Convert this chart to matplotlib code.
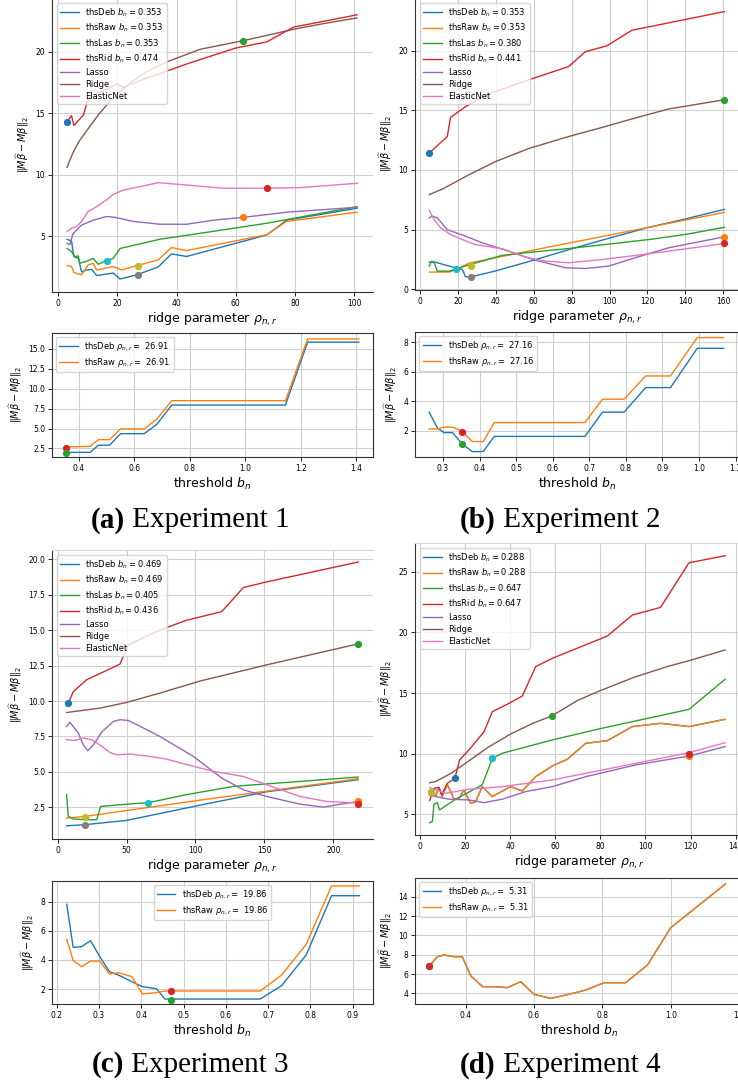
import numpy as np
import matplotlib.pyplot as plt

W, H = 738, 1086
plt.rcParams['font.family'] = 'DejaVu Sans'

labels_top = ["thsDeb", "thsRaw", "thsLas", "thsRid", "Lasso", "Ridge", "ElasticNet"]
dot_colors_a = ["C0", "C2", "C3", "C1", "C9", "C8", "C7"]

## Experiment 1 ##
e1_bn = [0.353, 0.353, 0.353, 0.474]
e1_deb_x = [3, 4.5, 5.3, 6.8, 7.9, 9.6, 11.3, 13, 18.6, 20.9, 26.5, 33.8, 38.3, 43.4, 70.5, 77.2, 101]
e1_deb_y = [4.74, 4.6, 3.34, 3.2, 2.1, 2.25, 2.3, 1.8, 2.0, 1.52, 1.85, 2.5, 3.56, 3.35, 5.1, 6.3, 7.27]
e1_raw_x = [3, 4.5, 5.3, 7.9, 10.1, 11.8, 13, 18.6, 21.4, 26.5, 33.8, 38.3, 43.4, 70.5, 77.2, 101]
e1_raw_y = [2.61, 2.53, 2.05, 1.85, 2.65, 2.8, 2.25, 2.53, 2.25, 2.6, 3.07, 4.07, 3.83, 5.12, 6.2, 6.95]
e1_las_x = [3, 4.5, 5.6, 6.8, 7.3, 10.1, 11.8, 13.5, 16.3, 18.6, 20.9, 34.4, 47.9, 70.5, 101]
e1_las_y = [4.0, 3.74, 3.33, 3.4, 2.8, 3.0, 3.2, 2.72, 3.0, 3.2, 4.0, 4.75, 5.23, 6.05, 7.4]
e1_rid_x = [3, 4.5, 5.3, 8.5, 10, 13, 17, 20, 22, 27, 34, 44, 60, 70.5, 79.5, 101]
e1_rid_y = [14.3, 14.8, 14.0, 14.85, 16.1, 16.6, 17.0, 17.4, 17.1, 17.6, 18.2, 19.05, 20.3, 20.8, 22.0, 23.0]
e1_lasso_x = [3, 3.9, 5, 7.9, 11.8, 16.3, 19.2, 25.4, 34.4, 43.4, 52.4, 62.6, 77.2, 101]
e1_lasso_y = [4.42, 4.3, 5.2, 5.9, 6.3, 6.6, 6.53, 6.2, 5.97, 5.97, 6.3, 6.53, 6.95, 7.35]
e1_ridge_x = [3, 5, 7, 10, 14, 18, 25, 30, 37, 48, 62.5, 70, 80, 90, 101]
e1_ridge_y = [10.6, 11.8, 12.7, 13.7, 15.0, 16.1, 17.6, 18.4, 19.2, 20.2, 20.9, 21.3, 21.85, 22.3, 22.75]
e1_enet_x = [3, 4.5, 6.2, 7.9, 10.1, 13, 16.3, 18.6, 22, 27.6, 33.8, 43.4, 55.8, 70.5, 81.7, 101]
e1_enet_y = [5.38, 5.65, 5.78, 6.2, 7.0, 7.4, 7.95, 8.4, 8.75, 9.03, 9.35, 9.16, 8.9, 8.9, 8.95, 9.3]
e1_dot_x = [3, 62.5, 70.5, 62.5, 16.5, 26.8, 26.8]
e1_dot_y = [14.3, 20.85, 8.9, 6.55, 3.0, 2.6, 1.88]

e1_rho = 26.91
e1_thr = [0.353, 0.44, 0.47, 0.51, 0.55, 0.635, 0.68, 0.735, 1.145, 1.225, 1.41]
e1_thr_deb = [2.0, 2.0, 2.9, 2.9, 4.35, 4.35, 5.5, 7.95, 7.95, 15.85, 15.85]
e1_thr_raw = [2.7, 2.75, 3.6, 3.6, 4.95, 4.95, 6.15, 8.5, 8.5, 16.25, 16.25]

## Experiment 2 ##
e2_bn = [0.353, 0.353, 0.380, 0.441]
e2_deb_x = [4.9, 8, 18.8, 22.3, 24, 26.8, 40, 60, 80, 100, 120, 140, 160.5]
e2_deb_y = [2.28, 2.28, 1.8, 1.67, 1.06, 1.05, 1.55, 2.45, 3.4, 4.3, 5.17, 5.9, 6.7]
e2_raw_x = [4.9, 15.3, 21, 25.8, 60, 100, 160.5]
e2_raw_y = [1.45, 1.45, 1.8, 2.2, 3.3, 4.55, 6.45]
e2_las_x = [4.9, 6, 7.4, 9.1, 15.3, 25.8, 43.3, 61, 80, 100, 122, 140, 160.5]
e2_las_y = [1.95, 2.35, 2.3, 1.53, 1.53, 2.05, 2.85, 3.15, 3.45, 3.8, 4.2, 4.6, 5.2]
e2_rid_x = [4.9, 14.4, 16.1, 24, 35, 57.4, 78.4, 87.2, 98.6, 111.8, 160.5]
e2_rid_y = [11.42, 12.8, 14.4, 15.3, 16.3, 17.55, 18.66, 19.9, 20.4, 21.7, 23.26]
e2_lasso_x = [4.9, 6.5, 9.1, 14.4, 24, 32.8, 46.8, 60.9, 76.8, 87.2, 99.5, 113.5, 131, 160.5]
e2_lasso_y = [5.99, 6.13, 6.0, 5.0, 4.46, 3.9, 3.2, 2.45, 1.81, 1.75, 1.95, 2.65, 3.48, 4.4]
e2_ridge_x = [4.9, 11.8, 25.8, 39.8, 57.4, 78.4, 96, 113.5, 131, 160.5]
e2_ridge_y = [7.94, 8.4, 9.6, 10.7, 11.8, 12.8, 13.56, 14.35, 15.1, 15.88]
e2_enet_x = [4.9, 7.4, 10.9, 16.1, 22.3, 29.3, 43.3, 55.6, 66.1, 78.4, 96, 113.5, 131, 160.5]
e2_enet_y = [6.6, 5.85, 5.15, 4.6, 4.18, 3.75, 3.4, 2.7, 2.37, 2.23, 2.5, 2.84, 3.2, 3.84]
e2_dot_x = [4.9, 160.5, 160.5, 160.5, 19, 26.8, 26.8]
e2_dot_y = [11.42, 15.88, 4.35, 3.85, 1.72, 1.93, 1.05]
dot_colors_b = ["C0", "C2", "C1", "C3", "C9", "C8", "C7"]

e2_rho = 27.16
e2_thr = [0.262, 0.285, 0.303, 0.326, 0.353, 0.38, 0.41, 0.44, 0.688, 0.736, 0.795, 0.854, 0.922, 0.995, 1.067]
e2_thr_deb = [3.25, 2.16, 1.86, 1.86, 1.07, 0.57, 0.57, 1.6, 1.6, 3.25, 3.25, 4.92, 4.92, 7.59, 7.59]
e2_thr_raw = [2.11, 2.11, 2.23, 2.23, 1.93, 1.25, 1.25, 2.54, 2.54, 4.13, 4.13, 5.71, 5.71, 8.32, 8.32]

## Experiment 3 ##
e3_bn = [0.469, 0.469, 0.405, 0.436]
e3_deb_x = [6.5, 19.8, 50, 103, 151.6, 218]
e3_deb_y = [1.2, 1.28, 1.58, 2.65, 3.6, 4.45]
e3_raw_x = [6.5, 19.8, 110, 218]
e3_raw_y = [1.75, 1.86, 3.1, 4.52]
e3_las_x = [6.5, 7.7, 11.4, 21, 28.3, 31.2, 54.9, 65.8, 93.6, 127.4, 175.8, 218]
e3_las_y = [3.4, 1.87, 1.68, 1.63, 1.63, 2.57, 2.76, 2.83, 3.4, 3.98, 4.33, 4.64]
e3_rid_x = [7.7, 11.4, 21, 45.2, 51.3, 74.2, 93.6, 119, 134.7, 151.6, 218]
e3_rid_y = [9.85, 10.67, 11.5, 12.6, 13.96, 15.0, 15.7, 16.3, 18.0, 18.4, 19.8]
e3_lasso_x = [6.5, 8.9, 15, 18.6, 21.8, 25.9, 31.9, 40.4, 45.2, 51.3, 62.2, 74.2, 98.4, 119,
              134.7, 151.6, 175.8, 192.7, 200, 218]
e3_lasso_y = [8.2, 8.5, 7.74, 6.9, 6.5, 6.9, 7.8, 8.56, 8.68, 8.63, 8.1, 7.5, 6.1, 4.57,
              3.74, 3.27, 2.73, 2.52, 2.64, 2.92]
e3_ridge_x = [6.5, 30.7, 50, 74.2, 103, 151.6, 218]
e3_ridge_y = [9.19, 9.5, 9.9, 10.56, 11.4, 12.55, 14.03]
e3_enet_x = [6.5, 12.6, 18.6, 24.7, 30.7, 38, 42.8, 52.5, 67, 79, 98.4, 113, 134.7, 151.6, 175.8, 195, 218]
e3_enet_y = [7.27, 7.22, 7.39, 7.27, 6.9, 6.37, 6.21, 6.26, 6.1, 5.9, 5.4, 5.04, 4.68, 4.1, 3.27, 2.92, 2.8]
e3_dot_x = [7.7, 218, 218, 218, 65.8, 19.8, 19.8]
e3_dot_y = [9.85, 14.03, 2.95, 2.75, 2.83, 1.85, 1.25]

e3_rho = 19.86
e3_thr = [0.224, 0.239, 0.259, 0.28, 0.302, 0.325, 0.346, 0.378, 0.403, 0.436, 0.456, 0.47,
          0.681, 0.732, 0.79, 0.85, 0.916]
e3_thr_deb = [7.82, 4.86, 4.91, 5.32, 4.22, 3.19, 2.96, 2.5, 2.16, 2.02, 1.31, 1.31,
              1.31, 2.23, 4.34, 8.41, 8.41]
e3_thr_raw = [5.41, 3.95, 3.53, 3.92, 3.92, 3.03, 3.12, 2.85, 1.66, 1.75, 1.86, 1.86,
              1.86, 2.96, 5.07, 9.08, 9.08]

## Experiment 4 ##
e4_bn = [0.288, 0.288, 0.647, 0.647]
e4_raw_x = [4.3, 5.5, 6.9, 8.4, 9.9, 12.1, 15.1, 17.3, 19.5, 22.5, 24.7, 27.6, 32.1, 40.2,
            45.4, 51.3, 58.7, 65.3, 73.5, 83.1, 94.2, 106.7, 119.3, 135.3]
e4_raw_y = [6.6, 7.0, 6.5, 7.2, 6.46, 7.47, 6.24, 6.32, 7.0, 5.9, 6.04, 7.28, 6.46, 7.28,
            6.92, 8.1, 8.98, 9.53, 10.85, 11.07, 12.23, 12.5, 12.23, 12.83]
e4_deb_x = e4_raw_x  # thsDeb coincides with thsRaw here
e4_deb_y = e4_raw_y
e4_las_x = [4.3, 5.5, 6.2, 7.7, 8.7, 15.8, 27.6, 32.1, 36.5, 58.7, 80.9, 119.3, 135.3]
e4_las_y = [4.31, 4.4, 5.82, 5.96, 5.36, 6.24, 7.42, 9.6, 10.03, 11.13, 12.1, 13.65, 16.13]
e4_rid_x = [4.3, 6.2, 8.4, 9.6, 12.1, 15.5, 17.6, 21.7, 28.4, 32.1, 39.5, 45.4, 51.3, 58.7,
            83.1, 94.2, 106.7, 119.3, 135.3]
e4_rid_y = [6.13, 7.14, 7.22, 6.6, 7.55, 7.97, 9.48, 10.3, 11.8, 13.46, 14.15, 14.75, 17.17, 17.86,
            19.7, 21.43, 22.06, 25.74, 26.32]
e4_lasso_x = [4.3, 6.9, 12.9, 21.7, 28.4, 36.5, 46.9, 58.7, 73.5, 95.7, 119.3, 135.3]
e4_lasso_y = [6.6, 6.46, 6.24, 6.18, 5.96, 6.24, 6.87, 7.28, 8.1, 9.07, 9.8, 10.58]
e4_ridge_x = [4.3, 7, 14, 21.7, 30, 40, 50, 58.4, 70, 80, 95, 110, 120, 135.3]
e4_ridge_y = [7.6, 7.7, 8.4, 9.4, 10.5, 11.6, 12.5, 13.1, 14.4, 15.2, 16.3, 17.2, 17.7, 18.55]
e4_enet_x = [4.3, 11.4, 21.7, 36.5, 58.7, 80.9, 119.3, 135.3]
e4_enet_y = [7.2, 6.73, 7.06, 7.28, 7.83, 8.65, 10.08, 10.9]
e4_dot_x = [15.5, 58.4, 119.3, 119.3, 32.1, 5.0, 5.0]
e4_dot_y = [7.95, 13.1, 9.8, 9.97, 9.6, 6.8, 6.8]
dot_colors_d = ["C0", "C2", "C1", "C3", "C9", "C7", "C8"]

e4_rho = 5.31
e4_thr = [0.293, 0.317, 0.337, 0.366, 0.39, 0.415, 0.45, 0.483, 0.522, 0.561, 0.6, 0.649,
          0.702, 0.751, 0.805, 0.868, 0.932, 1.0, 1.16]
e4_thr_raw = [6.8, 7.79, 7.97, 7.79, 7.79, 5.79, 4.69, 4.69, 4.59, 5.21, 3.9, 3.48,
              3.9, 4.34, 5.1, 5.1, 6.93, 10.79, 15.31]
e4_thr_deb = e4_thr_raw

captions = [("(a)", " Experiment 1"), ("(b)", " Experiment 2"),
            ("(c)", " Experiment 3"), ("(d)", " Experiment 4")]

YLAB = r"$\|M\widehat{\beta} - M\beta\|_2$"


def box(l, t, r, b):
    return [l / W, 1 - b / H, (r - l) / W, (b - t) / H]


def style(ax, top_panel):
    ax.grid(True, color='#cfcfcf', lw=0.8)
    ax.set_axisbelow(True)
    ax.tick_params(labelsize=5.5, length=3, width=0.6, pad=2)
    for s in ax.spines.values():
        s.set_linewidth(0.8)
        s.set_color('#333333')
    if top_panel:
        ax.spines['right'].set_visible(False)
        ax.spines['top'].set_color('#d5d5d5')


def top_panel(rect, xs, ys, bn, dx, dy, dcol, xlim, ylim, xt, yt):
    ax = fig.add_axes(rect)
    for i, lab in enumerate(labels_top):
        if i < 4:
            lab = lab + r" $b_n={:.3f}$".format(bn[i])
        ax.plot(xs[i], ys[i], color=f"C{i}", lw=1.0, label=lab)
    for x, y, c in zip(dx, dy, dcol):
        ax.plot(x, y, 'o', color=c, ms=4.2, zorder=5)
    ax.set_xlim(xlim)
    ax.set_ylim(ylim)
    ax.set_xticks(xt)
    ax.set_yticks(yt)
    style(ax, True)
    ax.set_xlabel(r"ridge parameter $\rho_{n,r}$", fontsize=9, labelpad=2)
    ax.set_ylabel(YLAB, fontsize=7, labelpad=3)
    ax.legend(loc='upper left', fontsize=6, handlelength=2.2, borderaxespad=0.6,
              labelspacing=0.35)
    return ax


def bottom_panel(rect, thr, deb, raw, rho, xlim, ylim, xt, yt, loc):
    ax = fig.add_axes(rect)
    ax.plot(thr, deb, color='C0', lw=1.0, label=r"thsDeb $\rho_{n,r}=$ " + f"{rho:.2f}")
    ax.plot(thr, raw, color='C1', lw=1.0, label=r"thsRaw $\rho_{n,r}=$ " + f"{rho:.2f}")
    ax.set_xlim(xlim)
    ax.set_ylim(ylim)
    ax.set_xticks(xt)
    ax.set_yticks(yt)
    style(ax, False)
    ax.set_xlabel(r"threshold $b_n$", fontsize=9, labelpad=2)
    ax.set_ylabel(YLAB, fontsize=7, labelpad=3)
    ax.legend(loc=loc, fontsize=6, handlelength=2.2, borderaxespad=0.5, labelspacing=0.3)
    return ax


fig = plt.figure(figsize=(W / 100, H / 100), dpi=100)

# (a)
top_panel(box(52, -2, 373, 292),
          [e1_deb_x, e1_raw_x, e1_las_x, e1_rid_x, e1_lasso_x, e1_ridge_x, e1_enet_x],
          [e1_deb_y, e1_raw_y, e1_las_y, e1_rid_y, e1_lasso_y, e1_ridge_y, e1_enet_y],
          e1_bn, e1_dot_x, e1_dot_y, dot_colors_a,
          (-2.1, 106.4), (0.46, 24.37), np.arange(0, 101, 20), [5, 10, 15, 20])
ax = bottom_panel(box(52, 333, 373, 457), e1_thr, e1_thr_deb, e1_thr_raw, e1_rho,
                  (0.3025, 1.461), (1.42, 17.0), [0.4, 0.6, 0.8, 1.0, 1.2, 1.4],
                  [2.5, 5.0, 7.5, 10.0, 12.5, 15.0], 'upper left')
ax.plot(e1_thr[0], e1_thr_raw[0] - 0.1, 'o', color='C3', ms=4.2, zorder=5)
ax.plot(e1_thr[0], e1_thr_deb[0] - 0.1, 'o', color='C2', ms=4.2, zorder=5)

# (b)
top_panel(box(415, -2, 740, 290),
          [e2_deb_x, e2_raw_x, e2_las_x, e2_rid_x, e2_lasso_x, e2_ridge_x, e2_enet_x],
          [e2_deb_y, e2_raw_y, e2_las_y, e2_rid_y, e2_lasso_y, e2_ridge_y, e2_enet_y],
          e2_bn, e2_dot_x, e2_dot_y, dot_colors_b,
          (-2.64, 168.8), (-0.05, 24.4), np.arange(0, 161, 20), [0, 5, 10, 15, 20])
ax = bottom_panel(box(415, 332, 740, 457), e2_thr, e2_thr_deb, e2_thr_raw, e2_rho,
                  (0.2234, 1.112), (0.2, 8.7), [0.3, 0.4, 0.5, 0.6, 0.7, 0.8, 0.9, 1.0, 1.1],
                  [2, 4, 6, 8], 'upper left')
ax.plot(e2_thr[4], e2_thr_raw[4], 'o', color='C3', ms=4.2, zorder=5)
ax.plot(e2_thr[4], e2_thr_deb[4], 'o', color='C2', ms=4.2, zorder=5)

# (c)
top_panel(box(52, 550, 373, 839),
          [e3_deb_x, e3_raw_x, e3_las_x, e3_rid_x, e3_lasso_x, e3_ridge_x, e3_enet_x],
          [e3_deb_y, e3_raw_y, e3_las_y, e3_rid_y, e3_lasso_y, e3_ridge_y, e3_enet_y],
          e3_bn, e3_dot_x, e3_dot_y, dot_colors_b,
          (-4.1, 228.8), (0.27, 20.65), [0, 50, 100, 150, 200],
          [2.5, 5.0, 7.5, 10.0, 12.5, 15.0, 17.5, 20.0])
ax = bottom_panel(box(52, 881, 373, 1004), e3_thr, e3_thr_deb, e3_thr_raw, e3_rho,
                  (0.189, 0.948), (0.97, 9.42), [0.2, 0.3, 0.4, 0.5, 0.6, 0.7, 0.8, 0.9],
                  [2, 4, 6, 8], 'upper center')
ax.plot(e3_thr[11], e3_thr_raw[11], 'o', color='C3', ms=4.2, zorder=5)
ax.plot(e3_thr[11], e3_thr_deb[11] - 0.04, 'o', color='C2', ms=4.2, zorder=5)

# (d)
top_panel(box(415, 543, 744, 835),
          [e4_deb_x, e4_raw_x, e4_las_x, e4_rid_x, e4_lasso_x, e4_ridge_x, e4_enet_x],
          [e4_deb_y, e4_raw_y, e4_las_y, e4_rid_y, e4_lasso_y, e4_ridge_y, e4_enet_y],
          e4_bn, e4_dot_x, e4_dot_y, dot_colors_d,
          (-2.2, 143.7), (3.29, 27.37), np.arange(0, 141, 20), [5, 10, 15, 20, 25])
ax = bottom_panel(box(415, 878, 744, 1004), e4_thr, e4_thr_deb, e4_thr_raw, e4_rho,
                  (0.2516, 1.2145), (2.9, 15.93), [0.4, 0.6, 0.8, 1.0, 1.2],
                  [4, 6, 8, 10, 12, 14], 'upper left')
ax.plot(e4_thr[0], e4_thr_deb[0], 'o', color='C2', ms=4.2, zorder=5)
ax.plot(e4_thr[0], e4_thr_raw[0], 'o', color='C3', ms=4.2, zorder=5)

# captions under each experiment
cap_pos = [(190, 520), (560, 520), (190, 1065), (560, 1065)]
renderer = fig.canvas.get_renderer()
for (tag, rest), (cx, cy) in zip(captions, cap_pos):
    t1 = fig.text(0, 0, tag, fontsize=21, fontweight='bold', family='Liberation Serif')
    t2 = fig.text(0, 0, rest, fontsize=21, family='Liberation Serif')
    w1 = t1.get_window_extent(renderer).width
    w2 = t2.get_window_extent(renderer).width
    x0 = cx - (w1 + w2) / 2
    t1.set_position((x0 / W, 1 - cy / H))
    t2.set_position(((x0 + w1) / W, 1 - cy / H))
    t1.set_va('center')
    t2.set_va('center')

plt.savefig('out.png', dpi=100)
